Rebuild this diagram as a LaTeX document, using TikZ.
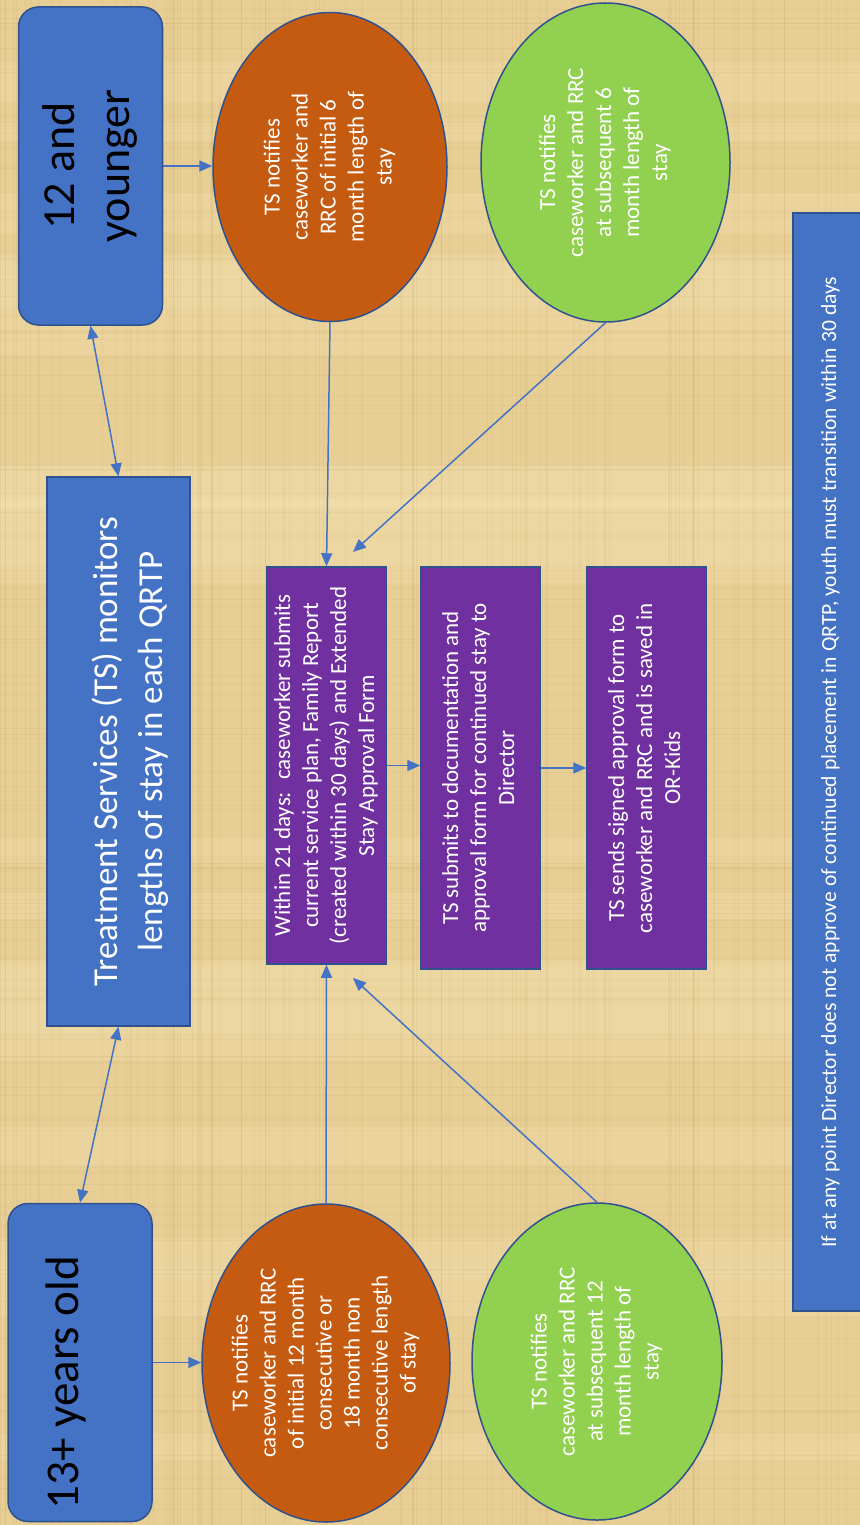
\documentclass[tikz,border=0pt]{standalone}
\usepackage{fontspec}
\setmainfont{Carlito}
\usetikzlibrary{arrows.meta,calc,shapes.geometric}
\definecolor{paper}{RGB}{231,206,148}
\definecolor{paperdark}{RGB}{185,155,90}
\definecolor{paperlight}{RGB}{245,228,180}
\definecolor{boxblue}{RGB}{68,114,196}
\definecolor{edgeblue}{RGB}{47,82,143}
\definecolor{rust}{RGB}{197,90,17}
\definecolor{leaf}{RGB}{146,208,80}
\definecolor{plum}{RGB}{112,48,160}
\newcommand{\vtext}[1]{\rotatebox{90}{\begin{tabular}{@{}c@{}}#1\end{tabular}}}

\begin{document}
\begin{tikzpicture}[x=0.5pt,y=-0.5pt,
  every node/.style={inner sep=0pt,line width=0.75pt,draw=edgeblue},
  agebox/.style={fill=boxblue,rounded corners=10pt,minimum width=72pt,minimum height=159pt,font=\fontsize{23}{27.5}\selectfont},
  mainbox/.style={fill=boxblue,minimum width=71.5pt,minimum height=274.5pt,text=white,font=\fontsize{17.5}{22.5}\selectfont},
  bubble/.style={ellipse,inner sep=-12pt,text=white,font=\fontsize{11.5}{14}\selectfont},
  stepbox/.style={fill=plum,minimum width=59.5pt,text=white,font=\fontsize{11.5}{14}\selectfont},
  notebox/.style={fill=boxblue,minimum width=38pt,minimum height=549pt,text=white,font=\fontsize{10.8}{13}\selectfont},
  flow/.style={draw=boxblue,line width=0.75pt,-{Triangle[length=6.5pt,width=5.5pt]}},
  both/.style={flow,{Triangle[length=6.5pt,width=5.5pt]}-{Triangle[length=6.5pt,width=5.5pt]}}]
\useasboundingbox (0,0) rectangle (860,1525);
% parchment background
\fill[paper] (0,0) rectangle (860,1525);
\pgfmathsetseed{11}
\foreach \k in {1,...,24}{
  \pgfmathsetmacro{\yy}{rnd*1525}
  \pgfmathsetmacro{\hh}{15+rnd*45}
  \fill[paperlight,opacity=0.25] (0,\yy) rectangle (860,\yy+\hh);
}
\foreach \k in {1,...,110}{
  \pgfmathsetmacro{\xx}{rnd*860}
  \draw[paperdark,opacity=0.12,line width=0.4pt] (\xx,0) -- (\xx,1525);
}
\foreach \k in {1,...,110}{
  \pgfmathsetmacro{\yy}{rnd*1525}
  \draw[paperdark,opacity=0.1,line width=0.4pt] (0,\yy) -- (860,\yy);
}

% age groups and monitoring
\node[agebox] (young) at (90.5,166) {\vtext{12 and\\younger}};
\node[agebox,font=\fontsize{23.5}{28}\selectfont] (older) at (80,1362.5)
  {\raisebox{0pt}[\dimexpr\height+20pt][\depth]{\vtext{13+ years old}}\kern13pt};
\node[mainbox] (ts) at (118.5,751.5) {\kern12pt\vtext{Treatment Services (TS) monitors\\lengths of stay in each QRTP}};

% notifications
\node[bubble,fill=rust,minimum width=117pt,minimum height=154.5pt] (o6) at (330,167)
  {\vtext{TS notifies\\caseworker and\\RRC of initial 6\\month length of\\stay}};
\node[bubble,fill=rust,minimum width=124pt,minimum height=159pt] (o12) at (326,1363)
  {\vtext{TS notifies\\caseworker and RRC\\of initial 12 month\\consecutive or\\18 month non\\consecutive length\\of stay}};
\node[bubble,fill=leaf,minimum width=124.5pt,minimum height=159.5pt] (g6) at (605.5,162.5)
  {\vtext{TS notifies\\caseworker and RRC\\at subsequent 6\\month length of\\stay}};
\node[bubble,fill=leaf,minimum width=125pt,minimum height=158.5pt] (g12) at (597,1361.5)
  {\vtext{TS notifies\\caseworker and RRC\\at subsequent 12\\month length of\\stay}};

% approval steps
\node[stepbox,minimum height=198.5pt] (p1) at (326.5,765.5)
  {\vtext{Within 21 days:~ caseworker submits\\current service plan, Family Report\\(created within 30 days) and Extended\\Stay Approval Form}};
\node[stepbox,minimum height=201pt] (p2) at (480.5,768)
  {\vtext{TS submits to documentation and\\approval form for continued stay to\\Director}};
\node[stepbox,minimum height=201pt] (p3) at (646.5,768)
  {\vtext{TS sends signed approval form to\\caseworker and RRC and is saved in\\OR-Kids}};

\node[notebox] (note) at (831,762)
  {\vtext{If at any point Director does not approve of continued placement in QRTP, youth must transition within 30 days}};

\coordinate (in6) at (353,552);
\coordinate (in12) at (353,978);

% connectors
\draw[flow] (young.east) -- (young.east -| o6.west);
\draw[flow] (older.east) -- (older.east -| o12.west);
\draw[both] (young.south) -- (ts.north);
\draw[both] (ts.south) -- (older.north);
\draw[flow] (o6.south) -- (p1.north);
\draw[flow] (o12.north) -- (p1.south);
\draw[flow] (g6.south) -- (in6);
\draw[flow] (g12.north) -- (in12);
\draw[flow] (p1.east) -- (p1.east -| p2.west);
\draw[flow] (p2.east) -- (p3.west);
\end{tikzpicture}
\end{document}
